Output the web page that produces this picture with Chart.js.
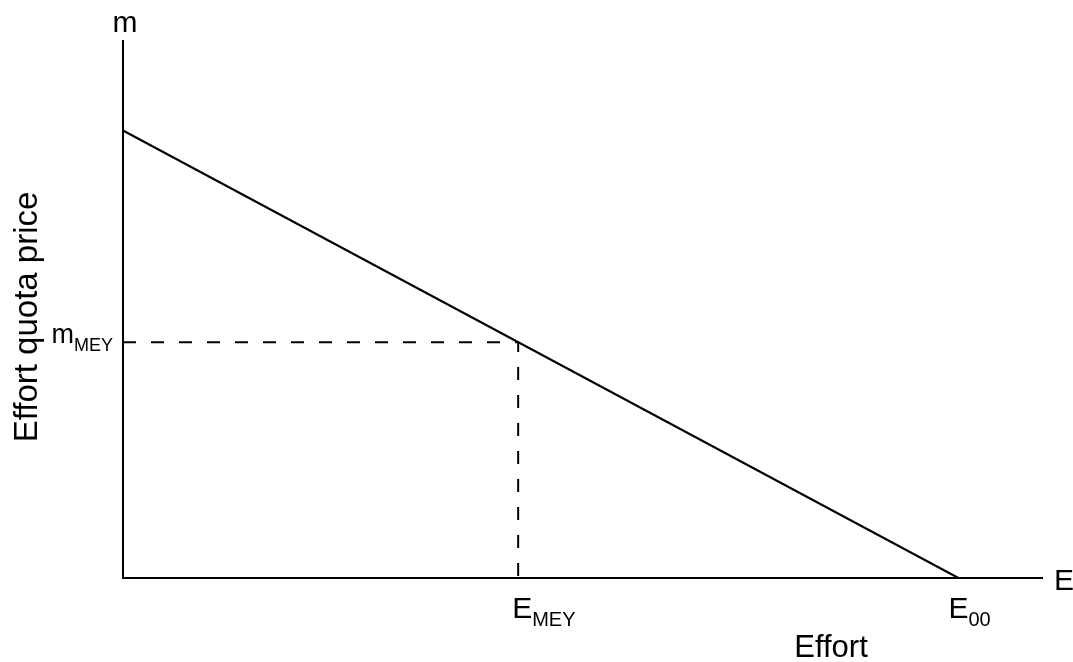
<!DOCTYPE html>
<html>
<head>
<meta charset="utf-8">
<script src="https://cdn.jsdelivr.net/npm/chart.js@4"></script>
<style>
  html, body { margin: 0; padding: 0; background: #fff; }
  #wrap { width: 1073px; height: 662px; }
</style>
</head>
<body>
<div id="wrap"><canvas id="myChart"></canvas></div>
<script>
// demand line for effort quotas (price falls to zero at E00)
const effortValues = [0, 1];
const priceValues = [1, 0];
// MEY point
const effortMEY = 0.473;
const priceMEY = 0.527;
// axis ranges
const effortMax = 1.1;
const priceMax = 1.2;
// labels: [main, subscript]
const xTickLabels = [['E', 'MEY'], ['E', '00']];
const xTickValues = [effortMEY, 1];
const yTickLabels = [['m', 'MEY']];
const yTickValues = [priceMEY];
const xAxisName = 'E';
const yAxisName = 'm';
const xTitle = 'Effort';
const yTitle = 'Effort quota price';

const FONT = '"Liberation Sans", Arial, Helvetica, sans-serif';

function drawSub(ctx, x, y, main, sub, align, big, small){
    ctx.font = big + 'px ' + FONT;
    const w1 = ctx.measureText(main).width;
    ctx.font = small + 'px ' + FONT;
    const w2 = ctx.measureText(sub).width;
    let left = x;
    if(align === 'right') left = x - w1 - w2;
    ctx.textAlign = 'left';
    ctx.textBaseline = 'alphabetic';
    ctx.font = big + 'px ' + FONT;
    ctx.fillText(main, left, y);
    ctx.font = small + 'px ' + FONT;
    ctx.fillText(sub, left + w1, y + 8);
}

const labelPlugin = {
    id: 'labelPlugin',
    afterDraw(chart){
        const ctx = chart.ctx;
        const xs = chart.scales.x;
        const ys = chart.scales.y;
        const area = chart.chartArea;
        ctx.save();
        ctx.fillStyle = '#000';

        // axis names at the ends
        ctx.font = '30px ' + FONT;
        ctx.textAlign = 'center';
        ctx.textBaseline = 'alphabetic';
        ctx.fillText(yAxisName, area.left + 2, area.top - 9);
        ctx.textAlign = 'left';
        ctx.fillText(xAxisName, area.right + 12, area.bottom + 12);

        // x tick labels
        const xOffsets = [-6, -10];
        xTickValues.forEach((v, i)=>{
            const px = xs.getPixelForValue(v);
            drawSub(ctx, px + xOffsets[i], area.bottom + 40, xTickLabels[i][0], xTickLabels[i][1], 'left', 30, 20);
        });
        // y tick labels
        yTickValues.forEach((v, i)=>{
            const py = ys.getPixelForValue(v);
            drawSub(ctx, area.left - 10, py + 1, yTickLabels[i][0], yTickLabels[i][1], 'right', 27, 18);
        });

        // titles
        ctx.font = '31px ' + FONT;
        ctx.textAlign = 'center';
        ctx.fillText(xTitle, 831, 657);
        ctx.font = '33px ' + FONT;
        ctx.translate(37, 317);
        ctx.rotate(-Math.PI / 2);
        ctx.fillText(yTitle, 0, 0);
        ctx.restore();
    }
};

const ctx = document.getElementById('myChart');
new Chart(ctx, {
    type: 'scatter',
    data: {
        datasets: [{
            label: 'Demand',
            data: effortValues.map((x, i)=>({x: x, y: priceValues[i]})),
            showLine: true,
            borderColor: '#000',
            borderWidth: 2,
            pointRadius: 0,
            clip: false
        }, {
            label: 'MEY',
            data: [{x: 0, y: priceMEY}, {x: effortMEY, y: priceMEY}, {x: effortMEY, y: 0}],
            showLine: true,
            borderColor: '#000',
            borderWidth: 2,
            borderDash: [13, 15],
            pointRadius: 0,
            clip: false
        }]
    },
    options: {
        responsive: true,
        maintainAspectRatio: false,
        animation: false,
        layout: { padding: { left: 123, top: 41, right: 31, bottom: 84 } },
        plugins: {
            legend: { display: false },
            tooltip: { enabled: false }
        },
        scales: {
            x: {
                type: 'linear',
                min: 0,
                max: effortMax,
                grid: { display: false, drawTicks: false },
                border: { display: true, color: '#000', width: 2 },
                ticks: { display: false }
            },
            y: {
                type: 'linear',
                min: 0,
                max: priceMax,
                grid: { display: false, drawTicks: false },
                border: { display: true, color: '#000', width: 2 },
                ticks: { display: false }
            }
        }
    },
    plugins: [labelPlugin]
});
</script>
</body>
</html>
